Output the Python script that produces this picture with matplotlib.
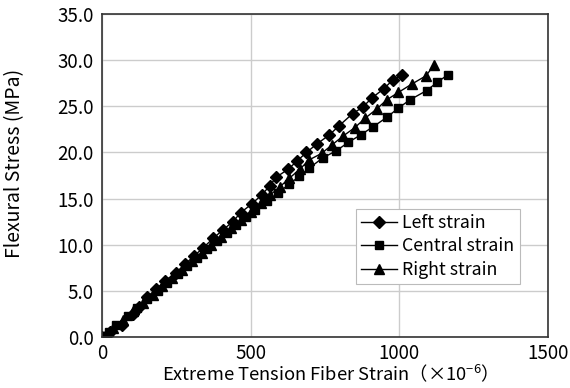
import matplotlib
matplotlib.use('Agg')
import matplotlib.pyplot as plt

plt.rcParams['font.family'] = ['Noto Sans CJK JP', 'DejaVu Sans']
plt.rcParams['mathtext.fontset'] = 'custom'
plt.rcParams['mathtext.rm'] = 'Noto Sans CJK JP'

# data
left_strain = [0, 27, 66, 105, 125, 150, 182, 212, 249, 279, 310, 341, 374, 406, 440, 467,
               503, 537, 565, 585, 627, 657, 688, 722, 765, 798, 843, 877, 908, 948, 980, 1011]
left_stress = [0, 0.6, 1.3, 2.5, 3.3, 4.3, 5.2, 6.1, 7.0, 7.9, 8.8, 9.7, 10.7, 11.6, 12.5, 13.5,
               14.4, 15.4, 16.4, 17.3, 18.2, 19.1, 20.0, 20.9, 21.9, 22.9, 24.2, 24.9, 25.9, 26.9, 27.9, 28.4]

central_strain = [0, 22, 48, 86, 119, 153, 187, 220, 254, 287, 321, 354, 388, 422, 451, 485, 515,
                  554, 593, 630, 664, 697, 742, 789, 829, 870, 913, 958, 997, 1036, 1092, 1128, 1163]
central_stress = [0, 0.6, 1.3, 2.3, 3.2, 4.1, 5.0, 5.9, 6.8, 7.7, 8.6, 9.5, 10.4, 11.3, 12.1, 13.0, 13.8,
                  14.7, 15.6, 16.6, 17.4, 18.3, 19.4, 20.2, 21.1, 21.9, 22.8, 23.8, 24.8, 25.7, 26.7, 27.6, 28.4]

right_strain = [0, 37, 70, 103, 137, 170, 203, 236, 269, 302, 335, 368, 401, 434, 467, 500, 534,
                566, 599, 630, 666, 697, 739, 773, 812, 851, 885, 924, 958, 997, 1042, 1090, 1118]
right_stress = [0, 1.0, 1.9, 2.8, 3.7, 4.6, 5.5, 6.4, 7.3, 8.2, 9.1, 10.0, 10.9, 11.8, 12.7, 13.6, 14.5,
                15.4, 16.3, 17.2, 18.2, 19.2, 19.9, 20.8, 21.8, 22.7, 23.7, 24.7, 25.7, 26.5, 27.4, 28.3, 29.5]

x_ticks = [0, 500, 1000, 1500]
y_ticks = [0, 5, 10, 15, 20, 25, 30, 35]

fig = plt.figure(figsize=(5.7, 3.88), dpi=100)
ax = fig.add_axes([0.179, 0.131, 0.782, 0.833])

ax.plot(left_strain, left_stress, '-D', color='black', lw=1, ms=6, label='Left strain')
ax.plot(central_strain, central_stress, '-s', color='black', lw=1, ms=6, label='Central strain')
ax.plot(right_strain, right_stress, '-^', color='black', lw=1, ms=7, label='Right strain')

ax.set_xlim(0, 1500)
ax.set_ylim(0, 35)
ax.set_xticks(x_ticks)
ax.set_yticks(y_ticks)
ax.set_yticklabels(['%.1f' % v for v in y_ticks])
ax.tick_params(length=0, labelsize=13.5, pad=6)
ax.tick_params(axis='x', pad=4)
ax.grid(True, color='#cccccc', lw=1)
ax.set_axisbelow(True)
for s in ax.spines.values():
    s.set_color('#333333')
    s.set_linewidth(1.2)

ax.set_xlabel('Extreme Tension Fiber Strain（×10$^{-6}$）', fontsize=13.2, labelpad=-1)
ax.set_ylabel('Flexural Stress (MPa)', fontsize=14)
ax.yaxis.set_label_coords(-0.172, 0.539)

leg = ax.legend(loc='lower right', bbox_to_anchor=(0.937, 0.164), fontsize=12.8,
                fancybox=False, framealpha=1, edgecolor='#bbbbbb', handlelength=2,
                handletextpad=0.3, borderpad=0.3, labelspacing=0.3, borderaxespad=0)
leg.get_frame().set_linewidth(0.8)

fig.savefig('out.png', dpi=100)
